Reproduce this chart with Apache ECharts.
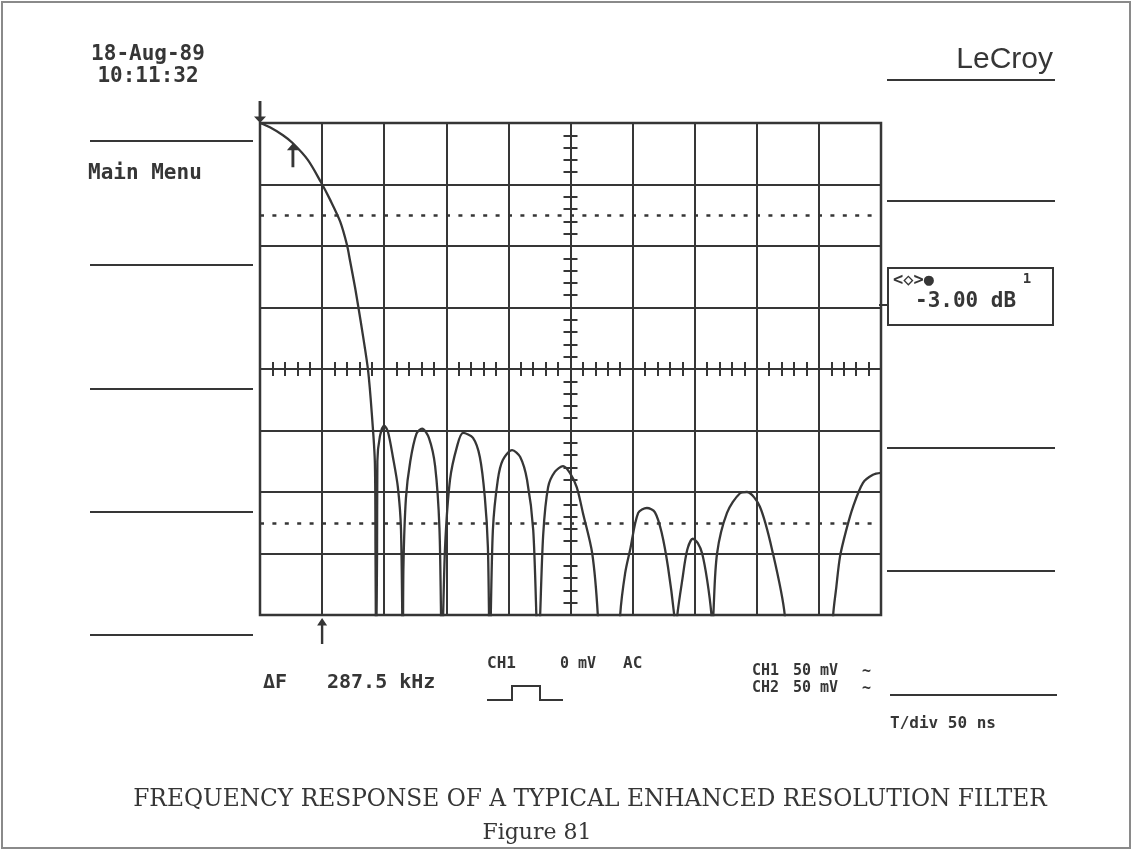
<!DOCTYPE html>
<html><head><meta charset="utf-8">
<script src="https://cdn.jsdelivr.net/npm/echarts@6/dist/echarts.min.js"></script>
<style>html,body{margin:0;padding:0;background:#fff}#c{width:1133px;height:852px}</style>
</head><body><div id="c"></div>
<script>
// Screen trace, in graticule divisions
// x: 0..10 horizontal divisions, y: 0..8 vertical divisions (0 = bottom). Values below 0 fall off screen (nulls).
const traceX = [
  0, 0.16, 0.37, 0.53, 0.77, 0.98, 1.13, 1.29, 1.40, 1.45, 1.53, 1.58, 1.66, 1.74, 1.80, 1.85, 1.86, 1.87,
  1.885, 1.89, 1.93, 2.0, 2.06, 2.14, 2.22, 2.27, 2.30,
  2.31, 2.35, 2.42, 2.52, 2.61, 2.72, 2.82, 2.89, 2.93,
  2.98, 3.06, 3.17, 3.27, 3.43, 3.54, 3.62, 3.67, 3.70,
  3.75, 3.83, 3.91, 4.06, 4.19, 4.30, 4.40, 4.48,
  4.56, 4.64, 4.75, 4.88, 4.99, 5.10, 5.20, 5.35, 5.44, 5.47, 5.77, 5.80,
  5.88, 5.96, 6.09, 6.23, 6.36, 6.47, 6.57, 6.67, 6.695,
  6.72, 6.80, 6.88, 6.97, 7.05, 7.12, 7.20, 7.27, 7.285,
  7.30, 7.36, 7.52, 7.73, 7.84, 8.05, 8.26, 8.45, 8.48, 9.20, 9.23,
  9.28, 9.34, 9.44, 9.55, 9.71, 9.87, 10.0
];
const traceY = [
  8.0, 7.93, 7.80, 7.67, 7.40, 7.04, 6.75, 6.40, 6.02, 5.76, 5.33, 5.03, 4.53, 3.98, 3.28, 2.47, 1.0, -0.6,
  1.0, 2.5, 2.9, 3.08, 2.98, 2.57, 2.08, 1.4, -0.6,
  0.8, 1.9, 2.5, 2.95, 3.03, 2.88, 2.42, 1.4, -0.6,
  1.1, 2.2, 2.73, 2.96, 2.88, 2.57, 1.92, 1.1, -0.6,
  1.38, 2.2, 2.52, 2.68, 2.57, 2.2, 1.38, -0.6,
  1.3, 2.08, 2.33, 2.42, 2.31, 2.08, 1.66, 1.0, 0.0, -1, -1, 0,
  0.68, 1.06, 1.66, 1.74, 1.67, 1.33, 0.78, 0.0, -0.4,
  0.0, 0.57, 1.06, 1.24, 1.17, 1.0, 0.57, 0.0, -0.4,
  0.0, 1.0, 1.66, 1.98, 2.0, 1.76, 1.0, 0.0, -1, -1, 0,
  0.45, 0.95, 1.38, 1.76, 2.15, 2.28, 2.31
];
// Dotted reference levels (divisions)
const refLevels = [6.5, 1.5];
// Cursor arrows (divisions): start marker, curve marker, bottom cursor
const cursorStart = [0, 8];
const cursorCurve = [0.53, 7.67];
const cursorBottom = [1, 0];
// Screen annotations
const dateText = '18-Aug-89';
const timeText = '10:11:32';
const cursorReading = '-3.00 dB';
const deltaLabel = 'ΔF';
const deltaValue = '287.5 kHz';
const captionTitle = 'FREQUENCY RESPONSE OF A TYPICAL ENHANCED RESOLUTION FILTER';
const captionFig = 'Figure 81';

const traceData = traceX.map((x, i) => [x, traceY[i]]);
const INK = '#363636';
const MONO = '"DejaVu Sans Mono", monospace';
const arrowUp = 'path://M5,0 L10,7 L6.2,7 L6.2,24 L3.8,24 L3.8,7 L0,7 Z';

const chart = echarts.init(document.getElementById('c'), null, {renderer: 'canvas'});

function hLine(x1, x2, y) {
  return {type: 'line', shape: {x1, y1: y, x2, y2: y}, style: {stroke: INK, lineWidth: 2}, silent: true};
}
function txt(text, x, y, font, align) {
  return {type: 'text', x, y, silent: true,
    style: {text, font, fill: INK, textAlign: align || 'left', textVerticalAlign: 'middle'}};
}

const tickAxisCommon = {
  min: 0, axisLabel: {show: false}, axisLine: {show: false}, splitLine: {show: false},
  axisTick: {show: true, inside: true, length: 7, lineStyle: {color: INK, width: 2}}
};

const option = {
  backgroundColor: '#fff',
  animation: false,
  grid: {left: 260, top: 123, width: 621, height: 492, show: true, borderColor: INK, borderWidth: 2.5},
  xAxis: [
    {type: 'value', min: 0, max: 10, interval: 1, position: 'bottom',
      axisLabel: {show: false}, axisTick: {show: false}, axisLine: {show: false},
      splitLine: {show: true, lineStyle: {color: INK, width: 2}}},
    Object.assign({type: 'value', max: 10, interval: 0.2, position: 'bottom', offset: -246}, tickAxisCommon),
    Object.assign({type: 'value', max: 10, interval: 0.2, position: 'top', offset: -246}, tickAxisCommon)
  ],
  yAxis: [
    {type: 'value', min: 0, max: 8, interval: 1, position: 'left',
      axisLabel: {show: false}, axisTick: {show: false}, axisLine: {show: false},
      splitLine: {show: true, lineStyle: {color: INK, width: 2}}},
    Object.assign({type: 'value', max: 8, interval: 0.2, position: 'left', offset: -310.5}, tickAxisCommon),
    Object.assign({type: 'value', max: 8, interval: 0.2, position: 'right', offset: -310.5}, tickAxisCommon)
  ],
  series: [{
    type: 'line',
    xAxisIndex: 0, yAxisIndex: 0,
    data: traceData,
    showSymbol: false,
    clip: true,
    smooth: 0.3,
    lineStyle: {color: INK, width: 2.3},
    markLine: {
      silent: true, symbol: ['none', 'none'], label: {show: false},
      lineStyle: {color: INK, width: 2.5, type: [4, 8.4]},
      data: refLevels.map(v => ({yAxis: v}))
    },
    markPoint: {
      silent: true, label: {show: false},
      itemStyle: {color: INK},
      data: [
        {coord: cursorStart, symbol: arrowUp, symbolSize: [12, 22], symbolRotate: 180, symbolOffset: [0, '-50%']},
        {coord: cursorCurve, symbol: arrowUp, symbolSize: [12, 24], symbolOffset: [0, '50%']},
        {coord: cursorBottom, symbol: arrowUp, symbolSize: [10, 26], symbolOffset: [0, 16]}
      ]
    }
  }],
  graphic: {elements: [
    // page border
    {type: 'rect', shape: {x: 2, y: 2, width: 1128, height: 846}, style: {fill: 'none', stroke: '#8a8a8a', lineWidth: 2}, silent: true},
    txt(dateText, 148, 55, 'bold 21px ' + MONO, 'center'),
    txt(timeText, 148, 77, 'bold 21px ' + MONO, 'center'),
    txt('Main Menu', 88, 174, 'bold 21px ' + MONO),
    hLine(90, 253, 141), hLine(90, 253, 265), hLine(90, 253, 389), hLine(90, 253, 512), hLine(90, 253, 635),
    txt('LeCroy', 1053, 60, '30px "Liberation Sans", Arial, sans-serif', 'right'),
    hLine(887, 1055, 80), hLine(887, 1055, 201), hLine(887, 1055, 448), hLine(887, 1055, 571), hLine(890, 1057, 695),
    {type: 'rect', shape: {x: 888, y: 268, width: 165, height: 57}, style: {fill: 'none', stroke: INK, lineWidth: 2}, silent: true},
    hLine(879, 888, 305),
    txt('<◇>●', 893, 281, 'bold 17px ' + MONO),
    txt('1', 1027, 279, 'bold 14px ' + MONO, 'center'),
    txt(cursorReading, 915, 302, 'bold 21px ' + MONO),
    txt(deltaLabel, 263, 683, 'bold 20px ' + MONO),
    txt(deltaValue, 327, 683, 'bold 20px ' + MONO),
    txt('CH1', 487, 664, 'bold 16px ' + MONO),
    txt('0 mV', 560, 664, 'bold 15px ' + MONO),
    txt('AC', 623, 664, 'bold 16px ' + MONO),
    {type: 'polyline', shape: {points: [[487, 700], [512, 700], [512, 686], [540, 686], [540, 700], [563, 700]]},
      style: {fill: 'none', stroke: INK, lineWidth: 2}, silent: true},
    txt('CH1', 752, 671, 'bold 15px ' + MONO),
    txt('50 mV', 793, 671, 'bold 15px ' + MONO),
    txt('~', 862, 672, 'bold 15px ' + MONO),
    txt('CH2', 752, 688, 'bold 15px ' + MONO),
    txt('50 mV', 793, 688, 'bold 15px ' + MONO),
    txt('~', 862, 689, 'bold 15px ' + MONO),
    txt('T/div 50 ns', 890, 724, 'bold 16px ' + MONO),
    txt(captionTitle, 590, 800, '23.3px "DejaVu Serif", serif', 'center'),
    txt(captionFig, 537, 833, '22px "DejaVu Serif", serif', 'center')
  ]}
};
chart.setOption(option);
</script>
</body></html>
